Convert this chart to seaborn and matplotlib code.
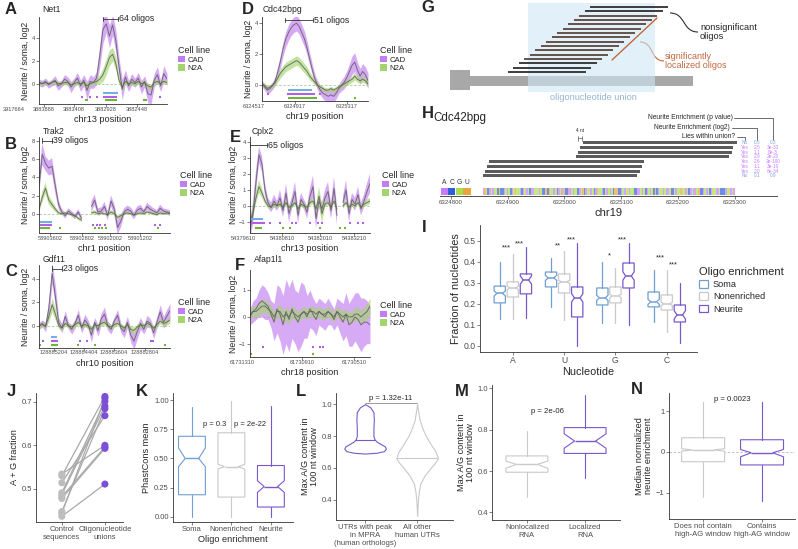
import numpy as np
import pandas as pd
import matplotlib
matplotlib.use("Agg")
import matplotlib.pyplot as plt
import seaborn as sns
from matplotlib.patches import Rectangle, Patch, PathPatch
from matplotlib.path import Path

# ---------------------------------------------------------------
# data
# ---------------------------------------------------------------
idx = np.arange(41)
nan = np.nan

# A  Net1
net1_cad = [0.1, 0.0, 0.2, -0.1, 0.1, 0.3, -0.2, 0.0, 0.4, 0.2, -0.3, 0.1, 0.5, -0.2, 0.3, -0.6, 0.2, 0.1, 0.5,
            2.5, 4.8, 5.3, 4.2, 5.2, 3.8, 1.5, -0.5,
            0.6, -0.2, 0.4, 0.1, 0.5, -0.3, 0.2, -0.9, -1.0, 0.3, 0.8, -0.2, 0.9, 0.4]
net1_cad_sd = [0.3, 0.3, 0.3, 0.3, 0.3, 0.4, 0.4, 0.3, 0.4, 0.4, 0.5, 0.4, 0.5, 0.5, 0.5, 0.8, 0.6, 0.5, 0.6, 1.0,
               1.2, 0.8, 1.0, 0.9, 1.0, 0.8, 0.9, 0.6, 0.5, 0.5, 0.4, 0.5, 0.6, 0.5, 0.8, 0.8, 0.6, 0.7, 0.5, 0.7, 0.5]
net1_n2a = [0.1, 0.0, 0.1, 0.0, 0.1, 0.2, 0.0, 0.0, 0.1, 0.1, -0.1, 0.0, 0.1, 0.0, 0.1, -0.2, 0.0, 0.1, 0.2,
            0.4, 0.8, 1.5, 2.3, 2.6, 1.8, 0.3, -0.3,
            0.2, 0.0, 0.1, 0.0, 0.2, 0.0, 0.1, -0.2, -0.3, 0.1, 0.2, 0.0, 0.2, 0.1]
net1_n2a_sd = [0.15, 0.15, 0.15, 0.15, 0.15, 0.2, 0.2, 0.15, 0.2, 0.2, 0.2, 0.2, 0.2, 0.2, 0.2, 0.25, 0.2, 0.2, 0.25, 0.4,
               0.6, 0.7, 0.7, 0.6, 0.6, 0.4, 0.3, 0.2, 0.2, 0.2, 0.2, 0.2, 0.2, 0.2, 0.25, 0.25, 0.2, 0.2, 0.2, 0.2, 0.2]
net1_union = [(20.0, 24.7)]
net1_cad_sig = [(13.4, 13.4), (15.9, 15.9), (18.1, 18.1), (20.0, 24.4), (37.8, 37.8)]
net1_n2a_sig = [(14.4, 15.3), (20.6, 24.4), (32.5, 33.8)]
net1_ticks = [-7.8, 1.56, 10.9, 20.9, 30.6]
net1_tick_labels = ["3917664", "3883888", "3883408", "3882928", "3882448"]

# B  Trak2
trak2_cad = [3.0, 6.5, 5.5, 5.0, 5.2, 3.0, 1.0, 0.2, -0.2, 0.3, 0.0, -0.3, 0.2, -0.5, nan, nan, 0.8, 1.5, 0.2, 0.3,
             0.8, -0.2, 1.4, 0.5, -1.5, -0.8, 0.2, 0.5, 0.3, -0.2, 0.4, 0.6, 0.2, 0.8, 0.5, 0.3, 0.1, 0.6, 0.3, 0.2, 0.1]
trak2_cad_sd = [1.0, 1.2, 0.8, 0.8, 0.9, 0.8, 0.5, 0.3, 0.3, 0.3, 0.3, 0.3, 0.3, 0.3, 0.3, 0.3, 0.6, 0.6, 0.4, 0.4,
                0.5, 0.5, 0.6, 0.6, 0.8, 0.7, 0.4, 0.4, 0.4, 0.4, 0.4, 0.4, 0.3, 0.4, 0.4, 0.3, 0.3, 0.4, 0.3, 0.3, 0.3]
trak2_n2a = [0.5, 1.8, 2.8, 1.5, 1.0, 0.5, 0.1, 0.0, 0.1, 0.0, -0.1, -0.2, -0.5, -0.7, nan, nan, 0.1, 0.2, 0.0, 0.1,
             0.0, -0.1, 0.2, 0.0, -0.4, -0.2, 0.0, 0.1, 0.0, -0.1, 0.0, 0.1, 0.0, 0.2, 0.1, 0.0, -0.1, 0.1, 0.0, 0.1, 0.0]
trak2_n2a_sd = [0.4, 0.6, 0.6, 0.5, 0.4, 0.3, 0.2, 0.15, 0.15, 0.15, 0.15, 0.15, 0.2, 0.2, 0.2, 0.2, 0.2, 0.2, 0.15, 0.15,
                0.15, 0.15, 0.2, 0.2, 0.25, 0.2, 0.15, 0.15, 0.15, 0.15, 0.15, 0.15, 0.15, 0.15, 0.15, 0.15, 0.15, 0.15, 0.15, 0.15, 0.2]
trak2_union = [(0.3, 4.0)]
trak2_cad_sig = [(0.3, 4.0), (16.5, 16.5), (17.7, 17.7), (18.6, 18.6), (20.1, 20.1), (35.4, 35.4), (36.9, 36.9)]
trak2_n2a_sig = [(0.3, 3.4), (6.4, 6.4), (17.1, 17.1), (18.3, 18.3), (19.2, 19.2), (20.4, 20.4), (36.3, 36.3)]
trak2_ticks = [3.4, 13.1, 21.7, 30.8]
trak2_tick_labels = ["58903602", "58902802", "58902002", "58901202"]

# C  Gdf11
gdf11_cad = [0.0, 0.2, -0.1, 1.5, 4.5, 2.5, 0.3, -0.2, 0.8, 0.0, -0.3, 0.2, 0.9, -0.2, 0.5, 0.1, -0.8, 0.3, -0.4, 0.6,
             1.0, 0.0, -0.3, 0.4, 0.9, -0.2, -0.5, 0.3, -0.8, -1.3, -0.5, 0.2, -0.3, 0.4, 0.2, -0.6, 0.3, 1.2, 0.3, 0.8, 1.3]
gdf11_cad_sd = [0.3, 0.3, 0.4, 0.8, 0.9, 0.9, 0.4, 0.4, 0.5, 0.3, 0.4, 0.4, 0.5, 0.4, 0.5, 0.4, 0.6, 0.4, 0.5, 0.5,
                0.6, 0.4, 0.4, 0.4, 0.5, 0.4, 0.5, 0.5, 0.6, 0.7, 0.6, 0.5, 0.4, 0.5, 0.4, 0.5, 0.5, 0.6, 0.5, 0.6, 0.6]
gdf11_n2a = [0.0, 0.1, 0.0, 0.8, 1.8, 1.0, 0.0, -0.2, 0.2, 0.0, -0.1, 0.1, 0.3, 0.0, 0.1, 0.0, -0.3, 0.1, 0.0, 0.2,
             0.3, 0.0, -0.1, 0.1, 0.2, 0.0, -0.2, 0.1, -0.3, -0.4, -0.1, 0.1, 0.0, 0.2, 0.1, -0.2, 0.1, 0.4, 0.2, 0.3, 0.5]
gdf11_n2a_sd = [0.2, 0.2, 0.2, 0.4, 0.6, 0.5, 0.25, 0.2, 0.2, 0.2, 0.2, 0.2, 0.2, 0.2, 0.2, 0.2, 0.25, 0.2, 0.2, 0.2,
                0.25, 0.2, 0.2, 0.2, 0.2, 0.2, 0.2, 0.2, 0.25, 0.3, 0.25, 0.2, 0.2, 0.2, 0.2, 0.2, 0.2, 0.25, 0.2, 0.25, 0.3]
gdf11_union = [(3.7, 5.5)]
gdf11_cad_sig = [(1.2, 1.2), (3.7, 5.8), (12.5, 12.5), (14.7, 14.7), (33.9, 35.1)]
gdf11_n2a_sig = [(0.3, 0.3), (3.7, 5.8), (11.9, 11.9), (17.1, 17.1), (38.5, 38.5)]
gdf11_ticks = [4.6, 13.7, 22.9, 32.4]
gdf11_tick_labels = ["128885204", "128884404", "128883604", "128882804"]

# D  Cdc42bpg
cdc_cad = [0.1, -0.1, -0.3, -0.2, 0.0, 0.3,
           0.9, 1.6, 2.4, 3.0, 3.4, 3.7, 3.9, 4.0, 3.8, 3.4, 3.0, 2.4, 1.7, 1.0, 0.4, 0.0,
           -0.3, -0.5, -0.6, -0.7, -0.6, -0.7, -0.5, -0.2, 0.0, 0.2, 0.5, 0.9, 1.3, 1.5, 1.0, 0.6, 0.9, 0.7, 0.3]
cdc_cad_sd = [0.2, 0.2, 0.25, 0.25, 0.25, 0.3,
              0.35, 0.4, 0.45, 0.5, 0.5, 0.5, 0.5, 0.5, 0.5, 0.5, 0.5, 0.45, 0.4, 0.35, 0.3, 0.3,
              0.3, 0.35, 0.4, 0.4, 0.45, 0.4, 0.35, 0.3, 0.35, 0.4, 0.45, 0.5, 0.6, 0.6, 0.5, 0.5, 0.5, 0.5, 0.5]
cdc_n2a = [0.1, 0.0, -0.2, -0.1, 0.0, 0.2, 0.5, 0.8, 1.0, 1.2, 1.3, 1.4, 1.5, 1.6, 1.5, 1.3, 1.1, 0.9, 0.6, 0.4,
           0.2, 0.0, -0.1, -0.2, -0.3, -0.3, -0.2, -0.3, -0.2, -0.1, 0.0, 0.1, 0.2, 0.3, 0.4, 0.6, 0.4, 0.3, 0.4, 0.3, 0.1]
cdc_n2a_sd = [0.15, 0.15, 0.15, 0.15, 0.15, 0.2,
              0.25, 0.3, 0.3, 0.3, 0.3, 0.3, 0.3, 0.3, 0.3, 0.3, 0.3, 0.3, 0.25, 0.2, 0.2, 0.15,
              0.15, 0.15, 0.15, 0.15, 0.15, 0.15, 0.15, 0.15, 0.15, 0.15, 0.2, 0.2, 0.2, 0.25, 0.2, 0.2, 0.2, 0.2, 0.2]
cdc_union = [(9.8, 18.9)]
cdc_cad_sig = [(2.3, 2.3), (9.4, 20.0), (21.9, 21.9)]
cdc_n2a_sig = [(9.8, 20.8), (35.1, 35.1)]
cdc_ticks = [-3.0, 12.5, 32.1]
cdc_tick_labels = ["6324517", "6324917", "6325317"]

# E  Cplx2
cplx2_cad = [-1.5, -0.5, 1.5, 3.2, 2.6, 1.0, 0.2, -0.1, 0.3, 0.0, 0.5, -0.3, 0.8, -0.5, 0.2, 0.9, -0.6, 0.4, 0.1, -0.4,
             0.6, 1.2, -0.8, 0.3, -0.2, 0.5, 0.9, -0.3, 1.1, -0.6, nan, 0.2, 1.0, -0.5, 0.4, 0.1, 0.7, -0.2, 0.3, 0.9, 1.4]
cplx2_cad_sd = [0.6, 0.7, 0.7, 0.5, 0.5, 0.4, 0.3, 0.3, 0.4, 0.3, 0.5, 0.4, 0.6, 0.5, 0.4, 0.6, 0.5, 0.4, 0.3, 0.4,
                0.5, 0.7, 0.6, 0.4, 0.4, 0.5, 0.6, 0.5, 0.7, 0.6, 0.3, 0.4, 0.6, 0.5, 0.4, 0.4, 0.5, 0.4, 0.4, 0.5, 0.6]
cplx2_n2a = [-1.0, -0.4, 0.5, 1.2, 0.8, 0.3, 0.0, -0.1, 0.1, 0.0, 0.1, -0.1, 0.2, -0.1, 0.0, 0.2, -0.2, 0.1, 0.0, -0.1,
             0.2, 0.3, -0.2, 0.6, -0.5, 0.1, 0.2, -0.1, 0.3, -0.2, nan, 0.0, 0.2, -0.1, 0.1, 0.0, 0.2, -0.1, 0.1, 0.2, 0.3]
cplx2_n2a_sd = [0.3, 0.3, 0.4, 0.4, 0.3, 0.2, 0.15, 0.15, 0.15, 0.15, 0.15, 0.15, 0.15, 0.15, 0.15, 0.15, 0.15, 0.15, 0.15, 0.15,
                0.2, 0.2, 0.2, 0.6, 0.6, 0.2, 0.15, 0.15, 0.15, 0.15, 0.15, 0.15, 0.15, 0.15, 0.15, 0.15, 0.15, 0.15, 0.15, 0.2, 0.2]
cplx2_union = [(0.0, 4.3)]
cplx2_cad_sig = [(0.0, 5.0), (6.7, 6.7), (10.0, 10.0), (14.0, 14.0), (15.3, 15.3), (20.0, 20.0), (22.7, 22.7),
                 (24.0, 24.0), (33.3, 33.3), (36.0, 36.0), (37.7, 37.7)]
cplx2_n2a_sig = [(1.7, 4.0), (11.0, 11.0), (13.3, 13.3), (23.3, 23.3), (30.0, 30.0), (31.7, 31.7)]
cplx2_ticks = [-2.3, 10.7, 23.3, 34.7]
cplx2_tick_labels = ["54379610", "54380810", "54382010", "54383210"]

# F  Afap1l1
afap_cad = [0.0, 0.2, 0.3, 0.5, 0.6, 0.5, 0.4, 0.1, -0.2, 0.3, 0.1, -0.3, 0.2, -0.1, 0.3, 0.0, -0.2, 0.1, 0.2, 0.0,
            0.3, 0.1, -0.1, 0.2, 0.1, 0.0, 0.2, 0.1, -0.1, 0.2, 0.0, -0.2, 0.1, -0.3, -0.2, 0.0, -0.1, -0.3, -0.2, -0.2, -0.3]
afap_cad_sd = [0.3, 0.4, 0.4, 0.5, 0.6, 0.6, 0.5, 0.5, 0.7, 0.9, 1.0, 1.1, 1.2, 1.2, 1.1, 1.0, 1.1, 1.2, 1.0, 0.8,
               0.7, 0.6, 0.6, 0.5, 0.5, 0.5, 0.5, 0.4, 0.4, 0.5, 0.6, 0.7, 0.8, 0.8, 0.9, 0.9, 1.0, 1.0, 0.9, 0.8, 0.7]
afap_n2a = [0.1, 0.2, 0.2, 0.3, 0.4, 0.4, 0.3, 0.2, 0.0, 0.2, 0.2, 0.0, 0.1, 0.0, 0.2, 0.1, 0.0, 0.1, 0.2, 0.1,
            0.2, 0.2, 0.1, 0.2, 0.1, 0.1, 0.2, 0.1, 0.0, 0.2, 0.1, 0.0, 0.1, 0.0, 0.0, 0.1, 0.1, 0.0, 0.1, 0.2, 0.4]
afap_n2a_sd = [0.2, 0.2, 0.2, 0.25, 0.25, 0.25, 0.25, 0.2, 0.2, 0.2, 0.25, 0.25, 0.25, 0.25, 0.25, 0.2, 0.2, 0.2, 0.2, 0.2,
               0.2, 0.2, 0.2, 0.2, 0.2, 0.2, 0.2, 0.2, 0.2, 0.2, 0.2, 0.2, 0.2, 0.2, 0.2, 0.25, 0.25, 0.25, 0.25, 0.3, 0.3]
afap_union = []
afap_cad_sig = [(4.3, 4.3), (21.0, 21.0), (23.3, 23.3), (24.3, 24.3)]
afap_n2a_sig = [(0.3, 0.3), (21.0, 21.0)]
afap_ticks = [-2.7, 17.3, 34.7]
afap_tick_labels = ["61731310", "61730910", "61730510"]

# H  Cdc42bpg oligos
h_start = [6325033, 6325028, 6325024, 6325020, 6324868, 6324864, 6324860, 6324856]
h_end = [6325303, 6325297, 6325294, 6325289, 6325140, 6325136, 6325133, 6325128]
h_union = ["No", "Yes", "Yes", "Yes", "Yes", "Yes", "Yes", "No"]
h_log2 = ["0.5", "2.5", "1.1", "2.9", "2.6", "1.1", "2.0", "0.1"]
h_pval = ["0.3", "3e-33", "8e-3", "2e-20", "2e-100", "3e-10", "8e-34", "0.9"]
h_ticks = [6324800, 6324900, 6325000, 6325100, 6325200, 6325300]
h_seq_start, h_seq_end = 6324856, 6325300
h_seq = ("AUGCAGAGGCUCCAGAGCAGUGGACAGAGCAAGGGAGCCUCUGGAGCAGAUCCAAGAGGCAGUCAGGAGCAUGGACGAG"
         "AGCUUCCAGAGGAGGCCAAGAGCAGAGCUCAGGAGAAGCCGAGGUGGAGCAGAAGUCCAGAGCAGGAAGCCCAGGAGA")

# I  nucleotide fractions: (whisker low, q1, median, q3, whisker high)
nucleotides = ["A", "U", "G", "C"]
i_soma = [(0.13, 0.205, 0.25, 0.285, 0.40), (0.186, 0.281, 0.324, 0.352, 0.42),
          (0.11, 0.195, 0.229, 0.276, 0.40), (0.114, 0.186, 0.21, 0.257, 0.36)]
i_nonen = [(0.13, 0.233, 0.276, 0.305, 0.44), (0.124, 0.252, 0.305, 0.343, 0.45),
           (0.11, 0.205, 0.238, 0.281, 0.37), (0.067, 0.171, 0.20, 0.243, 0.36)]
i_neurite = [(0.133, 0.248, 0.314, 0.343, 0.47), (0.0, 0.138, 0.229, 0.281, 0.49),
             (0.10, 0.276, 0.333, 0.395, 0.49), (0.014, 0.114, 0.148, 0.195, 0.30)]
i_notch = [0.012, 0.008, 0.02]
i_stars_nonen = ["***", "**", "*", "***"]
i_stars_neurite = ["***", "***", "***", "***"]
i_star_y_nonen = [0.448, 0.462, 0.414, 0.405]
i_star_y_neurite = [0.467, 0.49, 0.49, 0.371]

# J  A+G fraction
j_control = [0.534, 0.530, 0.514, 0.491, 0.487, 0.482, 0.478, 0.448, 0.444, 0.437]
j_union = [0.600, 0.712, 0.668, 0.701, 0.690, 0.596, 0.593, 0.684, 0.708, 0.511]

# K  PhastCons
k_groups = ["Soma", "Nonenriched", "Neurite"]
k_stats = [(0.0, 0.19, 0.50, 0.69, 0.94), (0.0, 0.17, 0.43, 0.72, 0.99), (0.0, 0.085, 0.26, 0.44, 0.95)]
k_ci = [(0.43, 0.59), (0.41, 0.45), (0.21, 0.31)]

# L  violin profiles (y, relative width)
l_peak_y = [0.69, 0.695, 0.705, 0.72, 0.735, 0.75, 0.765, 0.78, 0.80, 0.85, 0.90, 0.95, 0.98, 1.0]
l_peak_w = [0.0, 0.55, 0.90, 1.0, 0.95, 0.75, 0.55, 0.45, 0.40, 0.40, 0.42, 0.40, 0.25, 0.0]
l_peak_median = 0.776
l_other_y = [0.30, 0.35, 0.40, 0.45, 0.50, 0.55, 0.60, 0.63, 0.66, 0.70, 0.75, 0.80, 0.85, 0.90, 0.95, 1.0]
l_other_w = [0.0, 0.02, 0.04, 0.08, 0.15, 0.35, 0.65, 0.85, 1.0, 0.9, 0.65, 0.42, 0.25, 0.12, 0.06, 0.0]
l_other_median = 0.665

# M  max A/G content
m_stats = [(0.476, 0.594, 0.632, 0.673, 0.793), (0.565, 0.685, 0.745, 0.81, 0.968)]
m_ci = [(0.613, 0.648), (0.71, 0.78)]

# N  median normalized neurite enrichment
n_stats = [(-1.1, -0.24, 0.05, 0.35, 1.23), (-1.2, -0.32, -0.02, 0.30, 1.23)]
n_ci = [(0.02, 0.08), (-0.12, 0.06)]

# ---------------------------------------------------------------
# style
# ---------------------------------------------------------------
sns.set_theme(style="ticks")
plt.rcParams["font.family"] = ["Liberation Sans", "DejaVu Sans"]
plt.rcParams["axes.linewidth"] = 0.6

CAD_COL = "#c27df2"
N2A_COL = "#a3d46e"
LINE_COL = "#5f5f5f"
UNION_COL = "#74aee6"
CAD_MARK = "#b45ee6"
N2A_MARK = "#6fb43d"
SOMA = "#6f9fd3"
NONEN = "#c9c9c9"
NEURITE = "#7a58cc"
NT_COL = {"A": "#c77cff", "C": "#2f5fd8", "G": "#a6e04c", "U": "#e9a43e"}
TICK_COL = "#4d4d4d"

W, H = 798, 549
fig = plt.figure(figsize=(W / 100, H / 100), dpi=100)


def px_axes(x0, y0, x1, y1):
    return fig.add_axes([x0 / W, 1 - y1 / H, (x1 - x0) / W, (y1 - y0) / H])


def ftext(x, y, s, **kw):
    fig.text(x / W, 1 - y / H, s, **kw)


def style(ax, size=5.5):
    sns.despine(ax=ax)
    ax.set_facecolor("none")
    ax.tick_params(labelsize=size, length=2, width=0.5, pad=1, colors=TICK_COL)
    for s in ("left", "bottom"):
        ax.spines[s].set_linewidth(0.6)
        ax.spines[s].set_color("#333333")


def letter(x, y, s):
    ftext(x, y, s, fontsize=12, fontweight="bold", ha="center", va="center")


def trace_panel(box, title_xy, title, cad, cad_sd, n2a, n2a_sd, ylim, yticks, ticks, tick_labels, xlabel,
                union, cad_sig, n2a_sig, sig_y, legend_xy, bracket=None, bracket_y=None, bracket_text=None):
    ax = px_axes(*box)
    cad = np.asarray(cad, float)
    n2a = np.asarray(n2a, float)
    cs = np.asarray(cad_sd, float)
    ns = np.asarray(n2a_sd, float)
    ax.axhline(0, color="#a8c89a", lw=0.6, ls=(0, (3, 2)), zorder=0)
    ax.fill_between(idx, cad - cs, cad + cs, color=CAD_COL, alpha=0.65, lw=0)
    ax.fill_between(idx, n2a - ns, n2a + ns, color=N2A_COL, alpha=0.65, lw=0)
    ax.plot(idx, cad, color=LINE_COL, lw=0.7, alpha=0.85)
    ax.plot(idx, n2a, color=LINE_COL, lw=0.7, alpha=0.85)
    for rows, col, y in zip((union, cad_sig, n2a_sig), (UNION_COL, CAD_MARK, N2A_MARK), sig_y):
        for a, b in rows:
            if b - a < 0.3:
                a, b = a - 0.25, a + 0.25
            ax.plot([a, b], [y, y], color=col, lw=1.5, solid_capstyle="butt", clip_on=False)
    if bracket is not None:
        a, b = bracket
        d = (ylim[1] - ylim[0]) * 0.025
        ax.plot([a, b], [bracket_y, bracket_y], color="#333333", lw=0.6, clip_on=False)
        ax.plot([a, a], [bracket_y - d, bracket_y + d], color="#333333", lw=0.6, clip_on=False)
        ax.plot([b, b], [bracket_y - d, bracket_y + d], color="#333333", lw=0.6, clip_on=False)
        ax.text(b + 0.4, bracket_y, bracket_text, fontsize=6.3, va="center", ha="left")
    ax.set_xlim(0, 40)
    ax.set_ylim(*ylim)
    ax.set_yticks(yticks)
    style(ax, 4.2)
    ax.set_xticks([t for t in ticks if 0 <= t <= 40])
    ax.set_xticklabels([])
    for t, lab in zip(ticks, tick_labels):
        ax.text(t, -0.03, lab, transform=ax.get_xaxis_transform(), ha="center", va="top",
                fontsize=4.1, color=TICK_COL, clip_on=False)
    ax.set_xlabel(xlabel, fontsize=6.6, labelpad=5)
    ax.set_ylabel("Neurite / soma, log2", fontsize=6.3, labelpad=1)
    ftext(title_xy[0], title_xy[1], title, fontsize=6.2, va="center", ha="left")
    handles = [Patch(facecolor=CAD_COL, edgecolor="none"), Patch(facecolor=N2A_COL, edgecolor="none")]
    leg = ax.legend(handles, ["CAD", "N2A"], title="Cell line", loc="upper left",
                    bbox_to_anchor=(legend_xy[0] / W, 1 - legend_xy[1] / H), bbox_transform=fig.transFigure,
                    frameon=False, fontsize=5.6, title_fontsize=6.5, handlelength=0.9, handleheight=0.9,
                    handletextpad=0.3, labelspacing=0.1, borderpad=0, borderaxespad=0)
    leg._legend_box.align = "left"
    return ax


def draw_boxes(ax, stats, cis, positions, width, colors, lw=0.8):
    for (lo, q1, med, q3, hi), (c1, c2), pos, col in zip(stats, cis, positions, colors):
        st = dict(whislo=lo, q1=q1, med=med, q3=q3, whishi=hi, cilo=c1, cihi=c2, fliers=[])
        ax.bxp([st], positions=[pos], widths=width, shownotches=True, showcaps=False, showfliers=False,
               patch_artist=True, manage_ticks=False,
               boxprops=dict(facecolor="white", edgecolor=col, lw=lw),
               medianprops=dict(color=col, lw=lw + 0.2), whiskerprops=dict(color=col, lw=lw))


# ---------------------------------------------------------------
# A - F  tiled neurite / soma traces
# ---------------------------------------------------------------
letter(11, 9, "A")
trace_panel((39, 17, 167, 104), (42, 9), "Net1", net1_cad, net1_cad_sd, net1_n2a, net1_n2a_sd, (-1.8, 5.9), [0, 2, 4],
            net1_ticks, net1_tick_labels, "chr13 position", net1_union, net1_cad_sig, net1_n2a_sig,
            (-0.87, -1.15, -1.45), (178, 46), (20.0, 24.7), 5.75, "64 oligos")
letter(248, 9, "D")
trace_panel((262, 17, 368, 101), (263, 9), "Cdc42bpg", cdc_cad, cdc_cad_sd, cdc_n2a, cdc_n2a_sd, (-1.0, 4.4), [0, 2, 4],
            cdc_ticks, cdc_tick_labels, "chr19 position", cdc_union, cdc_cad_sig, cdc_n2a_sig,
            (-0.3, -0.55, -0.8), (380, 46), (8.6, 19.2), 4.2, "51 oligos")
letter(11, 144, "B")
trace_panel((39, 137, 170, 233), (43, 131), "Trak2", trak2_cad, trak2_cad_sd, trak2_n2a, trak2_n2a_sd, (-2.1, 8.4),
            [0, 2, 4, 6, 8], trak2_ticks, trak2_tick_labels, "chr1 position", trak2_union, trak2_cad_sig,
            trak2_n2a_sig, (-0.9, -1.25, -1.6), (180, 171), (0.9, 4.0), 8.0, "39 oligos")
letter(235, 137, "E")
trace_panel((250, 137, 370, 233), (252, 131), "Cplx2", cplx2_cad, cplx2_cad_sd, cplx2_n2a, cplx2_n2a_sd, (-1.7, 4.3),
            [-1, 0, 1, 2, 3, 4], cplx2_ticks, cplx2_tick_labels, "chr13 position", cplx2_union, cplx2_cad_sig,
            cplx2_n2a_sig, (-0.8, -1.1, -1.4), (382, 171), (0.0, 5.7), 3.8, "65 oligos")
letter(11, 271, "C")
trace_panel((39, 265, 170, 348), (43, 260), "Gdf11", gdf11_cad, gdf11_cad_sd, gdf11_n2a, gdf11_n2a_sd, (-1.9, 5.2),
            [0, 2, 4], gdf11_ticks, gdf11_tick_labels, "chr10 position", gdf11_union, gdf11_cad_sig,
            gdf11_n2a_sig, (-1.0, -1.3, -1.65), (178, 298), (4.0, 7.0), 4.9, "23 oligos")
letter(240, 265, "F")
trace_panel((250, 270, 370, 357), (254, 260), "Afap1l1", afap_cad, afap_cad_sd, afap_n2a, afap_n2a_sd, (-1.5, 1.75),
            [-1, 0, 1], afap_ticks, afap_tick_labels, "chr18 position", afap_union, afap_cad_sig, afap_n2a_sig,
            (-0.9, -1.13, -1.4), (380, 301))

# ---------------------------------------------------------------
# G  schematic
# ---------------------------------------------------------------
letter(428, 8, "G")
axg = px_axes(440, 0, 798, 106)
axg.set_xlim(440, 798)
axg.set_ylim(106, 0)
axg.axis("off")
axg.add_patch(Rectangle((450, 70), 20, 20, color="#a8a8a8", lw=0, zorder=1))
axg.add_patch(Rectangle((470, 76), 223, 10, color="#a8a8a8", lw=0, zorder=1))
axg.add_patch(Rectangle((528, 3), 127, 89, color="#cfe6f5", alpha=0.6, lw=0, zorder=2))
for i in range(16):
    y = 7 + 4.33 * i
    x0 = 590 - 5.5 * i
    col = "#5b463c" if 2 <= i <= 12 else "#2e2e2e"
    axg.plot([x0, x0 + 78], [y, y], color=col, lw=1.3, solid_capstyle="butt", zorder=3)
axg.plot([612, 657], [60, 18], color="#c2683f", lw=1.0, zorder=4)
axg.add_patch(PathPatch(Path([(670, 13), (686, 13), (682, 32), (698, 32)],
                             [Path.MOVETO, Path.CURVE4, Path.CURVE4, Path.CURVE4]),
                        facecolor="none", edgecolor="#2e2e2e", lw=0.8))
axg.add_patch(PathPatch(Path([(640, 42), (654, 42), (650, 61), (664, 61)],
                             [Path.MOVETO, Path.CURVE4, Path.CURVE4, Path.CURVE4]),
                        facecolor="none", edgecolor="#c2683f", lw=0.8))
axg.text(700, 23, "nonsignificant\noligos", fontsize=6.7, va="top", ha="left", linespacing=1.0)
axg.text(665, 52, "significantly\nlocalized oligos", fontsize=6.5, va="top", ha="left", color="#c2683f",
         linespacing=1.0)
axg.text(593, 98, "oligonucleotide union", fontsize=6.6, va="center", ha="center", color="#93b6cf")

# ---------------------------------------------------------------
# H  oligos along Cdc42bpg
# ---------------------------------------------------------------
letter(428, 113, "H")
ftext(433, 118, "Cdc42bpg", fontsize=8.4, va="center", ha="left")
axh = px_axes(440, 110, 777, 196)
axh.set_xlim(6324781, 6325374)
axh.set_ylim(11.3, -7.0)
for r, (s, e) in enumerate(zip(h_start, h_end)):
    axh.add_patch(Rectangle((s, r - 0.32), e - s, 0.64, color="#5b5b5b", lw=0))
step = (h_seq_end - h_seq_start) / len(h_seq)
for k, ch in enumerate(h_seq):
    axh.add_patch(Rectangle((h_seq_start + k * step, 9.5), step, 1.5, color=NT_COL[ch], lw=0, alpha=0.7))
for k, ch in enumerate("ACGU"):
    x0 = 6324782 + k * 13.4
    axh.add_patch(Rectangle((x0, 9.5), 12.6, 1.5, color=NT_COL[ch], lw=0))
    axh.text(x0 + 6.3, 9.2, ch, ha="center", va="bottom", fontsize=4.8, color="#333333")
for r, (u, l2, p) in enumerate(zip(h_union, h_log2, h_pval)):
    col = "#7ea9dc" if u == "No" else "#c77cff"
    axh.text(6325318, r, u, fontsize=3.4, color=col, ha="center", va="center")
    axh.text(6325339, r, l2, fontsize=3.4, color=col, ha="center", va="center")
    axh.text(6325367, r, p, fontsize=3.4, color=col, ha="center", va="center")
for label, yrow, xcol, xr in [("Neurite Enrichment (p value)", -5.3, 6325367, 6325296),
                              ("Neurite Enrichment (log2)", -3.2, 6325339, 6325291),
                              ("Lies within union?", -1.3, 6325318, 6325300)]:
    axh.text(xr, yrow, label, fontsize=4.8, ha="right", va="center")
    axh.plot([xr + 3, xcol, xcol], [yrow, yrow, -0.6], color="#333333", lw=0.5, clip_on=False)
axh.text(6325027, -2.6, "4 nt", fontsize=3.4, ha="center", va="center")
axh.plot([6325023, 6325023], [-1.4, -0.5], color="#333333", lw=0.4)
axh.plot([6325031, 6325031], [-1.4, -0.5], color="#333333", lw=0.4)
axh.plot([6325023, 6325031], [-0.95, -0.95], color="#333333", lw=0.4)
sns.despine(ax=axh, left=True)
axh.set_facecolor("none")
axh.set_yticks([])
axh.set_xticks(h_ticks)
axh.set_xticklabels([str(t) for t in h_ticks])
axh.tick_params(axis="x", labelsize=4.4, length=2, width=0.5, pad=1, colors=TICK_COL)
axh.spines["bottom"].set_linewidth(0.6)
axh.spines["bottom"].set_color("#333333")
axh.set_xlabel("chr19", fontsize=8, labelpad=2)

# ---------------------------------------------------------------
# I  nucleotide composition
# ---------------------------------------------------------------
letter(424, 228, "I")
axi = px_axes(480, 225, 697, 352)
offs = [-0.255, 0.0, 0.255]
for h, (stats, col) in enumerate(zip([i_soma, i_nonen, i_neurite], [SOMA, NONEN, NEURITE])):
    cis = [(s[2] - i_notch[h], s[2] + i_notch[h]) for s in stats]
    draw_boxes(axi, stats, cis, [g + offs[h] for g in range(4)], 0.22, [col] * 4, lw=0.9)
for g in range(4):
    axi.text(g - 0.12, i_star_y_nonen[g], i_stars_nonen[g], fontsize=5.5, ha="center", va="bottom")
    axi.text(g + 0.255 - 0.12, i_star_y_neurite[g], i_stars_neurite[g], fontsize=5.5, ha="center", va="bottom")
axi.set_xlim(-0.64, 3.59)
axi.set_ylim(-0.029, 0.576)
axi.set_xticks(range(4))
axi.set_xticklabels(nucleotides)
axi.set_yticks([0, 0.1, 0.2, 0.3, 0.4, 0.5])
axi.set_yticklabels(["0.0", "0.1", "0.2", "0.3", "0.4", "0.5"])
style(axi, 6.2)
axi.set_xlabel("Nucleotide", fontsize=7.8, labelpad=1)
axi.set_ylabel("Fraction of nucleotides", fontsize=7.8, labelpad=2)
handles = [Patch(facecolor="white", edgecolor=c, lw=0.9) for c in (SOMA, NONEN, NEURITE)]
leg = axi.legend(handles, k_groups, title="Oligo enrichment", loc="upper left",
                 bbox_to_anchor=(699 / W, 1 - 267 / H), bbox_transform=fig.transFigure, frameon=False,
                 fontsize=6.6, title_fontsize=8, handlelength=1.0, handleheight=0.9, handletextpad=0.5,
                 labelspacing=0.35, borderpad=0, borderaxespad=0)
leg._legend_box.align = "left"

# ---------------------------------------------------------------
# J  A+G fraction, paired
# ---------------------------------------------------------------
letter(11, 391, "J")
axj = px_axes(36, 393, 123, 522)
n = len(j_control)
df_j = pd.DataFrame({"pair": list(range(n)) * 2, "group": [0] * n + [1] * n, "frac": j_control + j_union})
sns.lineplot(data=df_j, x="group", y="frac", units="pair", estimator=None, color="#a9a9a9", lw=0.9,
             ax=axj, legend=False)
sns.scatterplot(data=df_j, x="group", y="frac", hue="group", palette={0: "#bdbdbd", 1: "#7b4fd6"}, s=26,
                edgecolor="none", ax=axj, legend=False, zorder=3, clip_on=False)
axj.set_xlim(-0.6, 1.42)
axj.set_ylim(0.424, 0.72)
axj.set_xticks([0, 1])
axj.set_xticklabels(["Control\nsequences", "Oligonucleotide\nunions"])
axj.set_yticks([0.5, 0.6, 0.7])
style(axj, 5.5)
axj.set_xlabel("")
axj.set_ylabel("A + G fraction", fontsize=6.6, labelpad=2)

# ---------------------------------------------------------------
# K  PhastCons
# ---------------------------------------------------------------
letter(142, 391, "K")
axk = px_axes(173, 393, 293, 522)
draw_boxes(axk, k_stats, k_ci, [0, 1, 2], 0.68, [SOMA, NONEN, NEURITE])
axk.text(0.57, 0.79, "p = 0.3", fontsize=5.4, ha="center", va="center")
axk.text(1.46, 0.79, "p = 2e-22", fontsize=5.4, ha="center", va="center")
axk.set_xlim(-0.48, 2.56)
axk.set_ylim(-0.043, 1.06)
axk.set_xticks([0, 1, 2])
axk.set_xticklabels(k_groups)
axk.set_yticks([0, 0.25, 0.5, 0.75, 1.0])
axk.set_yticklabels(["0.00", "0.25", "0.50", "0.75", "1.00"])
style(axk, 5.5)
axk.set_xlabel("Oligo enrichment", fontsize=6.6, labelpad=1)
axk.set_ylabel("PhastCons mean", fontsize=6.6, labelpad=2)

# ---------------------------------------------------------------
# L  violins
# ---------------------------------------------------------------
letter(301, 391, "L")
axl = px_axes(336, 393, 453, 520)
for pos, ys, ws, med, col in [(0, l_peak_y, l_peak_w, l_peak_median, NEURITE),
                              (1, l_other_y, l_other_w, l_other_median, NONEN)]:
    ys = np.asarray(ys)
    ws = np.asarray(ws) * 0.4
    axl.fill_betweenx(ys, pos - ws, pos + ws, facecolor="white", edgecolor=col, lw=0.8)
    wm = np.interp(med, ys, ws)
    axl.plot([pos - wm, pos + wm], [med, med], color=col, lw=0.8)
axl.plot([0, 1], [1.008, 1.008], color="#8c8c8c", lw=0.6)
axl.text(0.5, 1.012, "p = 1.32e-11", fontsize=5.6, ha="center", va="bottom")
axl.set_xlim(-0.56, 1.69)
axl.set_ylim(0.273, 1.07)
axl.set_xticks([0, 1])
axl.set_xticklabels(["UTRs with peak\nin MPRA\n(human orthologs)", "All other\nhuman UTRs"])
axl.set_yticks([0.4, 0.6, 0.8, 1.0])
style(axl, 5.5)
axl.set_ylabel("Max A/G content in\n100 nt window", fontsize=6.6, labelpad=2, linespacing=1.0)

# ---------------------------------------------------------------
# M  localized vs nonlocalized RNA
# ---------------------------------------------------------------
letter(462, 391, "M")
axm = px_axes(492, 385, 620, 520)
draw_boxes(axm, m_stats, m_ci, [0, 1], 0.72, [NONEN, NEURITE])
axm.text(0.36, 0.89, "p = 2e-06", fontsize=5.6, ha="center", va="center")
axm.set_xlim(-0.6, 1.6)
axm.set_ylim(0.363, 1.016)
axm.set_xticks([0, 1])
axm.set_xticklabels(["Nonlocalized\nRNA", "Localized\nRNA"])
axm.set_yticks([0.4, 0.6, 0.8, 1.0])
style(axm, 5.5)
axm.set_ylabel("Max A/G content in\n100 nt window", fontsize=6.6, labelpad=2, linespacing=1.0)

# ---------------------------------------------------------------
# N  neurite enrichment vs high-AG window
# ---------------------------------------------------------------
letter(637, 390, "N")
axn = px_axes(669, 393, 795, 519)
axn.axhline(0, color="#bdbdbd", lw=0.6, ls=(0, (3, 2)), zorder=0)
draw_boxes(axn, n_stats, n_ci, [0, 1], 0.73, [NONEN, NEURITE])
axn.text(0.49, 1.28, "p = 0.0023", fontsize=5.6, ha="center", va="center")
axn.set_xlim(-0.58, 1.56)
axn.set_ylim(-1.65, 1.45)
axn.set_xticks([0, 1])
axn.set_xticklabels(["Does not contain\nhigh-AG window", "Contains\nhigh-AG window"])
axn.set_yticks([-1, 0, 1])
style(axn, 5.5)
axn.set_ylabel("Median normalized\nneurite enrichment", fontsize=6.6, labelpad=2, linespacing=1.0)

fig.savefig("out.png", dpi=100)
